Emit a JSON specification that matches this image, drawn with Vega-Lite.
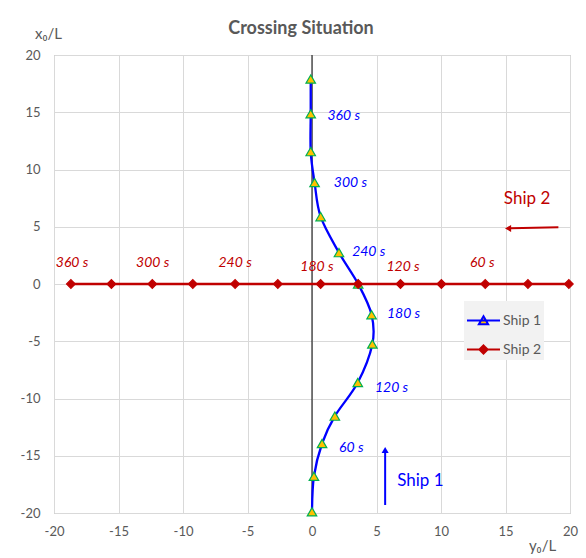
{
  "$schema": "https://vega.github.io/schema/vega-lite/v6.json",
  "width": 516,
  "height": 458,
  "autosize": "none",
  "padding": {"left": 54, "top": 55, "right": 16, "bottom": 45},
  "background": "white",
  "config": {"view": {"stroke": "#a6a6a6", "strokeWidth": 1}, "font": "Lato"},
  "title": {"text": "Crossing Situation", "fontSize": 18, "fontWeight": "bold", "color": "#595959", "font": "Lato", "offset": -12, "dx": -11},
  "datasets": {
    "tracks": [
      {"ship": "Ship 1", "t": 0, "y0": 0, "x0": -19.9},
      {"ship": "Ship 1", "t": 30, "y0": 0.15, "x0": -16.8},
      {"ship": "Ship 1", "t": 60, "y0": 0.78, "x0": -13.93},
      {"ship": "Ship 1", "t": 90, "y0": 1.77, "x0": -11.54},
      {"ship": "Ship 1", "t": 120, "y0": 3.55, "x0": -8.6},
      {"ship": "Ship 1", "t": 150, "y0": 4.68, "x0": -5.24},
      {"ship": "Ship 1", "t": 180, "y0": 4.62, "x0": -2.68},
      {"ship": "Ship 1", "t": 210, "y0": 3.58, "x0": 0},
      {"ship": "Ship 1", "t": 240, "y0": 2.09, "x0": 2.74},
      {"ship": "Ship 1", "t": 270, "y0": 0.67, "x0": 5.88},
      {"ship": "Ship 1", "t": 300, "y0": 0.2, "x0": 8.86},
      {"ship": "Ship 1", "t": 330, "y0": -0.1, "x0": 11.56},
      {"ship": "Ship 1", "t": 360, "y0": -0.1, "x0": 14.86},
      {"ship": "Ship 1", "t": 390, "y0": -0.1, "x0": 17.9},
      {"ship": "Ship 2", "t": 0, "y0": 19.91, "x0": 0},
      {"ship": "Ship 2", "t": 30, "y0": 16.74, "x0": 0},
      {"ship": "Ship 2", "t": 60, "y0": 13.43, "x0": 0},
      {"ship": "Ship 2", "t": 90, "y0": 10.03, "x0": 0},
      {"ship": "Ship 2", "t": 120, "y0": 6.86, "x0": 0},
      {"ship": "Ship 2", "t": 150, "y0": 3.58, "x0": 0},
      {"ship": "Ship 2", "t": 180, "y0": 0.67, "x0": 0},
      {"ship": "Ship 2", "t": 210, "y0": -2.65, "x0": 0},
      {"ship": "Ship 2", "t": 240, "y0": -5.96, "x0": 0},
      {"ship": "Ship 2", "t": 270, "y0": -9.24, "x0": 0},
      {"ship": "Ship 2", "t": 300, "y0": -12.38, "x0": 0},
      {"ship": "Ship 2", "t": 330, "y0": -15.55, "x0": 0},
      {"ship": "Ship 2", "t": 360, "y0": -18.69, "x0": 0}
    ],
    "labels": [
      {"ship": "Ship 1", "label": "360 s", "y0": 2.46, "x0": 14.71},
      {"ship": "Ship 1", "label": "300 s", "y0": 2.98, "x0": 8.8},
      {"ship": "Ship 1", "label": "240 s", "y0": 4.4, "x0": 2.83},
      {"ship": "Ship 1", "label": "180 s", "y0": 7.1, "x0": -2.65},
      {"ship": "Ship 1", "label": "120 s", "y0": 6.17, "x0": -9.06},
      {"ship": "Ship 1", "label": "60 s", "y0": 3.05, "x0": -14.28},
      {"ship": "Ship 2", "label": "360 s", "y0": -18.6, "x0": 1.86},
      {"ship": "Ship 2", "label": "300 s", "y0": -12.35, "x0": 1.86},
      {"ship": "Ship 2", "label": "240 s", "y0": -5.96, "x0": 1.8},
      {"ship": "Ship 2", "label": "180 s", "y0": 0.38, "x0": 1.51},
      {"ship": "Ship 2", "label": "120 s", "y0": 7.06, "x0": 1.51},
      {"ship": "Ship 2", "label": "60 s", "y0": 13.2, "x0": 1.86}
    ],
    "arrows": [
      {"ship": "Ship 1", "y0": 5.67, "x0": -19.3, "y0e": 5.67, "x0e": -14.6, "hy": 5.67, "hx": -14.5, "name": "Ship 1", "ny": 8.4, "nx": -17.2},
      {"ship": "Ship 2", "y0": 19.1, "x0": 4.96, "y0e": 15.4, "x0e": 4.86, "hy": 15.2, "hx": 4.85, "name": "Ship 2", "ny": 16.67, "nx": 7.43}
    ]
  },
  "layer": [
    {
      "data": {"values": [{"y0": 0, "x0": -20, "x0e": 20}]},
      "mark": {"type": "rule", "color": "#000000", "strokeWidth": 1},
      "encoding": {
        "x": {"field": "y0", "type": "quantitative", "scale": {"domain": [-20, 20], "nice": false},
          "axis": {"values": [-20, -15, -10, -5, 0, 5, 10, 15, 20], "labelExpr": "toString(datum.value)", "title": "y₀/L", "titleX": 488, "titleY": 37, "titleAngle": 0, "titleAlign": "center", "titleBaseline": "alphabetic", "titleFontWeight": "normal", "titleFontSize": 15, "titleColor": "#595959", "titleFont": "Lato", "labelFont": "Lato", "labelFontSize": 13, "labelColor": "#595959", "ticks": false, "domain": false, "gridColor": "#d9d9d9", "labelPadding": 12, "labelFlush": false, "labelOverlap": false}},
        "y": {"field": "x0", "type": "quantitative", "scale": {"domain": [-20, 20], "nice": false},
          "axis": {"values": [-20, -15, -10, -5, 0, 5, 10, 15, 20], "labelExpr": "toString(datum.value)", "title": "x₀/L", "titleX": -6, "titleY": -17, "titleAngle": 0, "titleAlign": "center", "titleBaseline": "alphabetic", "titleFontWeight": "normal", "titleFontSize": 15, "titleColor": "#595959", "titleFont": "Lato", "labelFont": "Lato", "labelFontSize": 13, "labelColor": "#595959", "ticks": false, "domain": false, "gridColor": "#d9d9d9", "labelPadding": 14, "labelFlush": false, "labelOverlap": false}},
        "y2": {"field": "x0e"}
      }
    },
    {
      "data": {"name": "tracks"},
      "mark": {"type": "line", "interpolate": "cardinal", "strokeWidth": 2.3},
      "encoding": {
        "x": {"field": "y0", "type": "quantitative"},
        "y": {"field": "x0", "type": "quantitative"},
        "order": {"field": "t", "type": "quantitative"},
        "color": {"field": "ship", "type": "nominal",
          "scale": {"domain": ["Ship 1", "Ship 2"], "range": ["#0000ff", "#c00000"]},
          "legend": {"title": null, "orient": "none", "legendX": 410, "legendY": 246, "fillColor": "#f2f2f2", "padding": 2, "symbolSize": 1089, "symbolStrokeWidth": 2, "rowPadding": 3, "labelOffset": 2, "labelFont": "Lato", "labelFontSize": 14, "labelColor": "#595959",
            "encode": {"symbols": {"update": {
              "shape": {"signal": "datum.value === 'Ship 1' ? 'M-1,0H1M0,-0.26L0.28,0.22L-0.28,0.22Z' : 'M-1,0H1M0,-0.25L0.25,0L0,0.25L-0.25,0Z'"},
              "fill": {"signal": "datum.value === 'Ship 1' ? '#ffc000' : '#c00000'"},
              "strokeWidth": {"value": 2}
            }}}}}
      }
    },
    {
      "data": {"name": "tracks"},
      "mark": {"type": "point", "filled": true, "opacity": 1, "strokeWidth": 1.2},
      "encoding": {
        "x": {"field": "y0", "type": "quantitative"},
        "y": {"field": "x0", "type": "quantitative"},
        "shape": {"condition": {"test": "datum.ship === 'Ship 1'", "value": "triangle-up"}, "value": "diamond"},
        "size": {"condition": {"test": "datum.ship === 'Ship 1'", "value": 90}, "value": 75},
        "fill": {"condition": {"test": "datum.ship === 'Ship 1'", "value": "#ffc000"}, "value": "#c00000"},
        "stroke": {"condition": {"test": "datum.ship === 'Ship 1'", "value": "#00b050"}, "value": "#c00000"}
      }
    },
    {
      "data": {"name": "labels"},
      "mark": {"type": "text", "fontStyle": "italic", "fontSize": 14, "font": "Lato", "align": "center", "baseline": "middle"},
      "encoding": {
        "x": {"field": "y0", "type": "quantitative"},
        "y": {"field": "x0", "type": "quantitative"},
        "text": {"field": "label"},
        "fill": {"condition": {"test": "datum.ship === 'Ship 1'", "value": "#0000ff"}, "value": "#c00000"}
      }
    },
    {
      "data": {"name": "arrows"},
      "mark": {"type": "rule", "strokeWidth": 2},
      "encoding": {
        "x": {"field": "y0", "type": "quantitative"},
        "y": {"field": "x0", "type": "quantitative"},
        "x2": {"field": "y0e"},
        "y2": {"field": "x0e"},
        "stroke": {"condition": {"test": "datum.ship === 'Ship 1'", "value": "#0000ff"}, "value": "#c00000"}
      }
    },
    {
      "data": {"name": "arrows"},
      "mark": {"type": "point", "filled": true, "opacity": 1, "size": 50},
      "encoding": {
        "x": {"field": "hy", "type": "quantitative"},
        "y": {"field": "hx", "type": "quantitative"},
        "shape": {"condition": {"test": "datum.ship === 'Ship 1'", "value": "triangle-up"}, "value": "triangle-left"},
        "fill": {"condition": {"test": "datum.ship === 'Ship 1'", "value": "#0000ff"}, "value": "#c00000"}
      }
    },
    {
      "data": {"name": "arrows"},
      "mark": {"type": "text", "fontSize": 17, "font": "Lato", "align": "center", "baseline": "middle"},
      "encoding": {
        "x": {"field": "ny", "type": "quantitative"},
        "y": {"field": "nx", "type": "quantitative"},
        "text": {"field": "name"},
        "fill": {"condition": {"test": "datum.ship === 'Ship 1'", "value": "#0000ff"}, "value": "#c00000"}
      }
    }
  ]
}
